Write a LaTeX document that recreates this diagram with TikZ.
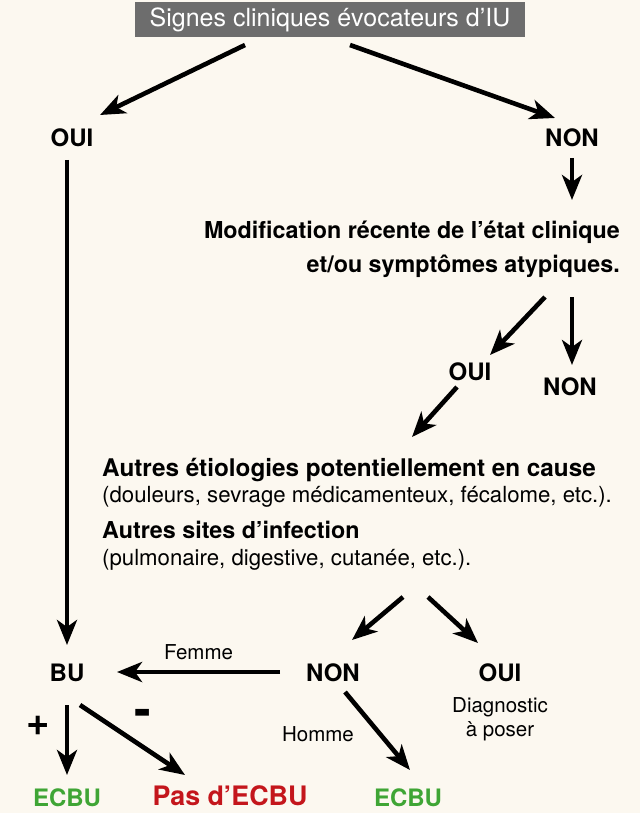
\documentclass[tikz,border=0pt]{standalone}
\usepackage{fontspec}
\setmainfont{TeX Gyre Heros}
\usetikzlibrary{arrows.meta}
\definecolor{bg}{HTML}{FCF8F0}
\definecolor{titlegray}{HTML}{6D6D6D}
\definecolor{okgreen}{HTML}{3FA535}
\definecolor{nored}{HTML}{C4161C}
\tikzset{
  arr/.style={line width=4.6pt,-{Stealth[length=25pt,width=20pt,inset=7pt]}},
  lbl/.style={font=\fontsize{24}{28}\selectfont\bfseries,inner sep=0pt},
  big/.style={font=\fontsize{23.3}{28}\selectfont\bfseries,inner sep=0pt},
  txt/.style={font=\fontsize{22.2}{26}\selectfont,inner sep=0pt},
  small/.style={font=\fontsize{20.5}{24}\selectfont,inner sep=0pt},
}
\begin{document}
\begin{tikzpicture}[x=1pt,y=-1pt]
\fill[bg] (0,0) rectangle (640,813);
\useasboundingbox (0,0) rectangle (640,813);
\node[fill=titlegray,text=white,font=\fontsize{25}{28}\selectfont,minimum width=390pt,minimum height=35pt,inner sep=0pt] (title) at (330,20) {Signes cliniques évocateurs d’IU};
\node[lbl] (oui1) at (72,138) {OUI};
\node[lbl] (non1) at (572,138) {NON};
\node[big,anchor=east] (mod1) at (620,232) {Modification récente de l’état clinique};
\node[big,anchor=east] (mod2) at (620,266) {et/ou symptômes atypiques.};
\node[lbl] (oui2) at (470,372) {OUI};
\node[lbl] (non2) at (570,387) {NON};
\node[big,anchor=west,font=\fontsize{24.3}{28}\selectfont\bfseries] (aut1) at (102,470) {Autres étiologies potentiellement en cause};
\node[txt,anchor=west] (aut2) at (102,497) {(douleurs, sevrage médicamenteux, fécalome, etc.).};
\node[big,anchor=west] (aut3) at (102,530) {Autres sites d’infection};
\node[txt,anchor=west] (aut4) at (102,560) {(pulmonaire, digestive, cutanée, etc.).};
\node[lbl] (bu) at (67,673) {BU};
\node[lbl] (non3) at (333,673) {NON};
\node[lbl] (oui3) at (500,673) {OUI};
\node[small,align=center] (diag) at (500,719) {Diagnostic\\à poser};
\node[lbl,text=okgreen] (ecbu1) at (67,798) {ECBU};
\node[lbl,text=nored,font=\fontsize{26.8}{30}\selectfont\bfseries] (pas) at (230,796) {Pas d’ECBU};
\node[lbl,text=okgreen] (ecbu2) at (408,798) {ECBU};
\node[font=\fontsize{40}{42}\selectfont\bfseries,inner sep=0pt] (plus) at (38,726) {+};
\node[font=\fontsize{50}{52}\selectfont\bfseries,inner sep=0pt] (minus) at (143,718) {-};

\coordinate (t1) at (245,45); \coordinate (t2) at (350,45);
\coordinate (o1a) at (100,115); \coordinate (n1a) at (555,118);
\draw[arr] (t1) -- (o1a);
\draw[arr] (t2) -- (n1a);
\draw[arr] (67,160) -- (67,645);
\draw[arr] (572,158) -- (572,200);
\draw[arr] (545,297) -- (490,355);
\draw[arr] (572,297) -- (572,365);
\draw[arr] (457,387) -- (412,437);
\draw[arr] (403,597) -- (352,640);
\draw[arr] (428,597) -- (478,643);
\draw[arr] (280,672) -- node[small,above=10pt] {Femme} (117,672);
\draw[arr] (345,692) -- (410,770);
\node[small] at (318,734) {Homme};
\draw[arr] (67,705) -- (67,775);
\draw[arr] (80,705) -- (185,775);
\end{tikzpicture}
\end{document}
